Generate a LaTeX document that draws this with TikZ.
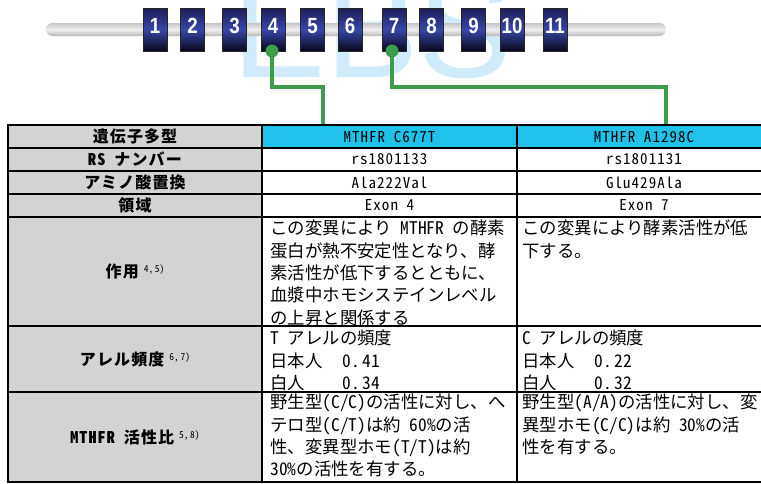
\documentclass[tikz,border=0pt]{standalone}
\usepackage{fontspec}
\usepackage{tikz}
\usetikzlibrary{positioning}
\setmainfont{Liberation Sans}
\newfontfamily\jpfont{Noto Sans CJK JP}[RawFeature=+hwid]
\newfontfamily\jplab{Noto Sans CJK JP}[RawFeature=+hwid,LetterSpace=7]
\newfontfamily\jphead{Noto Sans CJK JP}[RawFeature=+hwid,LetterSpace=7]
\newfontfamily\numfont{Liberation Sans}[FakeStretch=0.85]
\newfontfamily\wmfont{Liberation Sans}
\definecolor{cellgray}{RGB}{211,211,211}
\definecolor{headcyan}{RGB}{32,194,234}
\definecolor{linkgreen}{RGB}{61,156,76}
\definecolor{wmblue}{RGB}{208,235,249}
\definecolor{exontop}{RGB}{28,28,86}
\definecolor{exonmid}{RGB}{56,70,168}
\definecolor{exonbot}{RGB}{8,8,26}
\newcommand{\refmark}[1]{\hspace{5pt}\raisebox{5pt}{\jpfont\mdseries\fontsize{9.5}{9.5}\selectfont #1}}
\newcommand{\tabto}[1]{\makebox[72pt][l]{#1}}

\begin{document}
\begin{tikzpicture}[x=1pt,y=-1pt,
  exon/.style={draw=black!85,rectangle,minimum width=24pt,minimum height=43pt,inner sep=0pt,
    top color=exontop,bottom color=exonbot,middle color=exonmid,text=white,
    font=\numfont\bfseries\fontsize{22}{22}\selectfont,text height=15.8pt,text depth=8pt},
  chrom/.style={rectangle,rounded corners=6.5pt,minimum width=620pt,minimum height=13pt,inner sep=0pt,
    top color=gray!45,bottom color=gray!55,middle color=gray!12},
  dot/.style={circle,fill=linkgreen,minimum size=13pt,inner sep=0pt},
  link/.style={draw=linkgreen,line width=4pt},
  cell/.style={draw=black,line width=1.4pt,inner sep=0pt,minimum height=23pt},
  lab/.style={cell,fill=cellgray,minimum width=254pt,font=\jplab\bfseries\fontsize{16}{16}\selectfont},
  mid/.style={cell,minimum width=255pt,font=\jphead\fontsize{15}{15}\selectfont},
  rgt/.style={cell,minimum width=254pt,font=\jphead\fontsize{15}{15}\selectfont},
  body/.style={inner sep=0pt,anchor=north west,align=left,font=\jpfont\fontsize{17.4}{22.4}\selectfont}]
\useasboundingbox (0,0) rectangle (761,483);

\node[anchor=base west,inner sep=0pt,text=wmblue,font=\wmfont\fontsize{140}{140}\selectfont] (wm) at (232,77) {EBS};

\node[chrom] (chr) at (356,29.5) {};
\foreach \n/\x in {1/155,2/192.5,3/234.5,4/273,5/312.5,6/350,7/394,8/431.5,9/473.5,10/512,11/555}
  \node[exon] (e\n) at (\x,29.5) {\n};

\coordinate (b4) at (323,87);
\coordinate (b7) at (666,87);

\node[lab] (l1) at (135,136.5) {遺伝子多型};
\node[mid,fill=headcyan] (hA) at (389.5,136.5) {MTHFR C677T};
\node[rgt,fill=headcyan] (hB) at (644,136.5) {MTHFR A1298C};

\node[lab] (l2) at (135,159.5) {RS ナンバー};
\node[mid] (a2) at (389.5,159.5) {rs1801133};
\node[rgt] (b2) at (644,159.5) {rs1801131};

\node[lab] (l3) at (135,182.5) {アミノ酸置換};
\node[mid] (a3) at (389.5,182.5) {Ala222Val};
\node[rgt] (b3) at (644,182.5) {Glu429Ala};

\node[lab] (l4) at (135,205.5) {領域};
\node[mid] (a4) at (389.5,205.5) {Exon 4};
\node[rgt] (b4c) at (644,205.5) {Exon 7};

\node[lab,minimum height=109pt] (l5) at (135,271.5) {作用\refmark{4,\,5)}};
\node[mid,minimum height=109pt] (a5) at (389.5,271.5) {};
\node[rgt,minimum height=109pt] (b5) at (644,271.5) {};
\node[body,xshift=9pt,yshift=-3.5pt] (a5t) at (a5.north west)
  {この変異により MTHFR の酵素\\蛋白が熱不安定性となり、酵\\素活性が低下するとともに、\\血漿中ホモシステインレベル\\の上昇と関係する};
\node[body,xshift=6pt,yshift=-3.5pt] (b5t) at (b5.north west)
  {この変異により酵素活性が低\\下する。};

\node[lab,minimum height=66pt] (l6) at (135,359) {アレル頻度\refmark{6,\,7)}};
\node[mid,minimum height=66pt] (a6) at (389.5,359) {};
\node[rgt,minimum height=66pt] (b6) at (644,359) {};
\node[body,xshift=9pt,yshift=-4.5pt] (a6t) at (a6.north west)
  {T アレルの頻度\\\tabto{日本人}0.\,41\\\tabto{白人}0.\,34};
\node[body,xshift=6pt,yshift=-4.5pt] (b6t) at (b6.north west)
  {C アレルの頻度\\\tabto{日本人}0.\,22\\\tabto{白人}0.\,32};

\node[lab,minimum height=90pt] (l7) at (135,437) {MTHFR 活性比\refmark{5,\,8)}};
\node[mid,minimum height=90pt] (a7) at (389.5,437) {};
\node[rgt,minimum height=90pt] (b7c) at (644,437) {};
\node[body,xshift=9pt,yshift=-2.5pt] (a7t) at (a7.north west)
  {野生型(C/C)の活性に対し、へ\\テロ型(C/T)は約 60\%の活\\性、変異型ホモ(T/T)は約\\30\%の活性を有する。};
\node[body,xshift=6pt,yshift=-2.5pt] (b7t) at (b7c.north west)
  {野生型(A/A)の活性に対し、変\\異型ホモ(C/C)は約 30\%の活\\性を有する。};

\node[dot] (d4) at (272,51) {};
\node[dot] (d7) at (392,51) {};
\draw[link] (d4.center) |- (b4) -- (b4 |- hA.north);
\draw[link] (d7.center) |- (b7) -- (b7 |- hB.north);
\end{tikzpicture}
\end{document}
